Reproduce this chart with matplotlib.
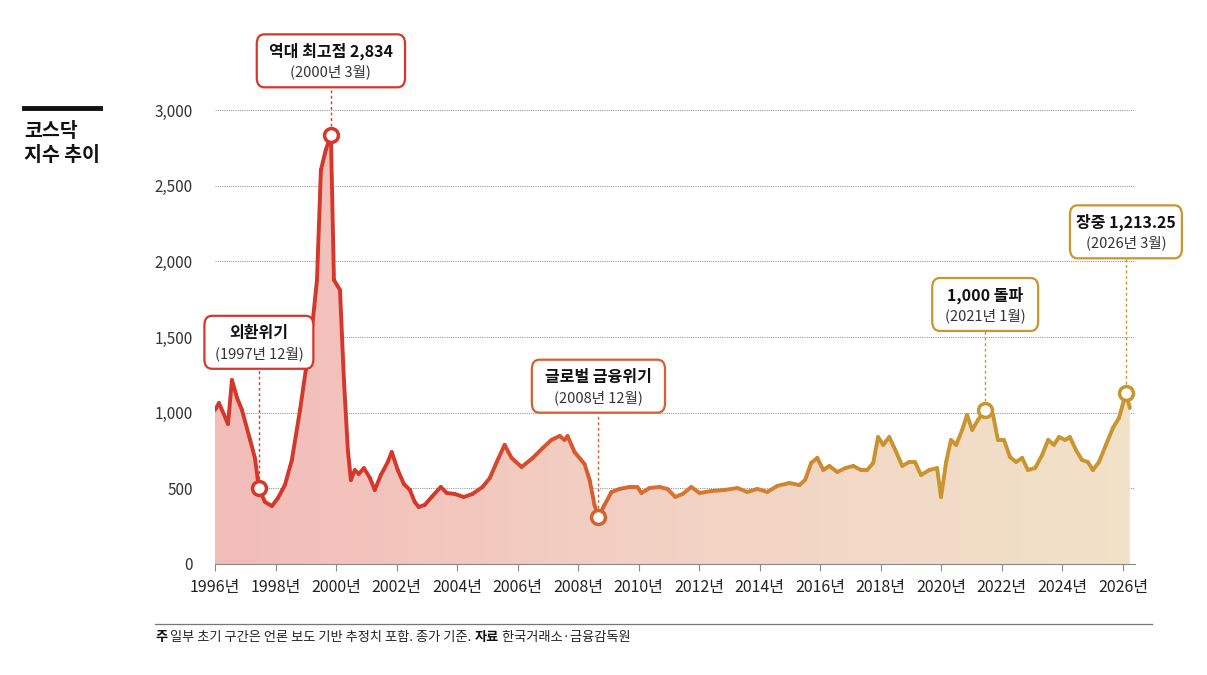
import numpy as np
import matplotlib
matplotlib.use("Agg")
import matplotlib.pyplot as plt
from matplotlib.collections import LineCollection
from matplotlib.colors import LinearSegmentedColormap
from matplotlib.patches import FancyBboxPatch

plt.rcParams["font.family"] = ["Noto Sans CJK KR", "DejaVu Sans"]

years = [1996.00, 1996.13, 1996.43, 1996.56, 1996.73, 1996.89, 1997.16, 1997.32, 1997.45, 1997.65,
         1997.88, 1998.08, 1998.31, 1998.54, 1998.81, 1999.00, 1999.20, 1999.37, 1999.50, 1999.66,
         1999.83, 1999.93, 2000.13, 2000.26, 2000.39, 2000.49, 2000.62, 2000.75, 2000.92, 2001.12,
         2001.28, 2001.48, 2001.71, 2001.84, 2002.04, 2002.24, 2002.44, 2002.60, 2002.73, 2002.93,
         2003.16, 2003.46, 2003.66, 2003.92, 2004.22, 2004.51, 2004.84, 2005.08, 2005.31, 2005.57,
         2005.80, 2006.13, 2006.50, 2006.83, 2007.12, 2007.39, 2007.55, 2007.65, 2007.88, 2008.21,
         2008.38, 2008.54, 2008.67, 2008.87, 2009.10, 2009.37, 2009.70, 2009.96, 2010.09, 2010.36,
         2010.69, 2010.95, 2011.21, 2011.45, 2011.74, 2012.01, 2012.40, 2012.83, 2013.26, 2013.59,
         2013.92, 2014.25, 2014.58, 2014.98, 2015.31, 2015.50, 2015.70, 2015.90, 2016.10, 2016.30,
         2016.56, 2016.83, 2017.09, 2017.35, 2017.55, 2017.75, 2017.91, 2018.08, 2018.28, 2018.48,
         2018.71, 2018.94, 2019.13, 2019.33, 2019.60, 2019.86, 2019.99, 2020.16, 2020.32, 2020.49,
         2020.69, 2020.85, 2021.02, 2021.21, 2021.45, 2021.71, 2021.87, 2022.07, 2022.27, 2022.47,
         2022.67, 2022.86, 2023.10, 2023.33, 2023.53, 2023.72, 2023.89, 2024.09, 2024.25, 2024.45,
         2024.65, 2024.84, 2025.01, 2025.21, 2025.44, 2025.67, 2025.87, 2026.10, 2026.23]
values = [1018, 1064, 925, 1216, 1097, 1018, 820, 700, 502, 410,
          383, 436, 522, 687, 1018, 1282, 1547, 1877, 2604, 2736,
          2834, 1877, 1811, 1216, 753, 555, 621, 595, 634, 568,
          489, 588, 674, 740, 621, 529, 489, 410, 377, 390,
          443, 509, 469, 463, 443, 463, 509, 568, 674, 787,
          701, 641, 701, 767, 820, 846, 820, 846, 740, 661,
          555, 390, 311, 390, 476, 496, 509, 509, 469, 502,
          509, 496, 443, 463, 509, 469, 482, 489, 502, 476,
          496, 476, 516, 535, 522, 555, 668, 701, 621, 648,
          608, 634, 648, 621, 621, 668, 839, 787, 839, 753,
          648, 674, 674, 588, 621, 634, 443, 674, 820, 787,
          886, 985, 886, 952, 1018, 985, 820, 820, 707, 674,
          701, 621, 634, 720, 820, 787, 839, 820, 839, 753,
          687, 674, 621, 674, 787, 899, 965, 1130, 1031]

tick_years = list(range(1996, 2027, 2))
tick_labels = [f"{y}년" for y in tick_years]
y_ticks = [0, 500, 1000, 1500, 2000, 2500, 3000]

# annotations: (marker index, title, subtitle, box top in data units, box width in years)
notes = [(8, "외환위기", "(1997년 12월)", 1640, 3.6),
         (20, "역대 최고점 2,834", "(2000년 3월)", 3500, 4.9),
         (62, "글로벌 금융위기", "(2008년 12월)", 1350, 4.4),
         (114, "1,000 돌파", "(2021년 1월)", 1890, 3.5),
         (137, "장중 1,213.25", "(2026년 3월)", 2370, 3.7)]

footer = [("주", True), (" 일부 초기 구간은 언론 보도 기반 추정치 포함. 종가 기준. ", False),
          ("자료", True), (" 한국거래소·금융감독원", False)]

RED = "#d6372b"
MID = "#d8752f"
GOLD = "#c9952f"
cmap = LinearSegmentedColormap.from_list("k", [RED, RED, MID, GOLD, GOLD], N=256)
fill_cmap = LinearSegmentedColormap.from_list("f", ["#f2bcb8", "#f3d2c4", "#f1e2c8"], N=256)

x = np.array(years)
y = np.array(values)
x0, x1 = 1996, 2026.4


def col(xv):
    return cmap((xv - x0) / (x1 - x0))


fig = plt.figure(figsize=(12.07, 6.75), dpi=100)
ax = fig.add_axes([215 / 1207, 1 - 564 / 675, (1135 - 215) / 1207, (564 - 110) / 675])
ax.set_xlim(x0, x1)
ax.set_ylim(0, 3000)

# gradient fill under curve
grad = np.linspace(0, 1, 256).reshape(1, -1)
im = ax.imshow(grad, extent=[x0, x1, 0, 3000], aspect="auto", cmap=fill_cmap, zorder=1)
poly = ax.fill_between(x, y, 0, color="none")
im.set_clip_path(poly.get_paths()[0], transform=ax.transData)

# gradient line
pts = np.column_stack([x, y]).reshape(-1, 1, 2)
segs = np.concatenate([pts[:-1], pts[1:]], axis=1)
lc = LineCollection(segs, colors=[col(v) for v in (x[:-1] + x[1:]) / 2], linewidth=2.8,
                    capstyle="round", joinstyle="round", zorder=3)
ax.add_collection(lc)

for gv in y_ticks[1:]:
    ax.axhline(gv, color="#9a9a9a", lw=0.8, ls=(0, (1, 1)), zorder=0)

for s in ["top", "right", "left"]:
    ax.spines[s].set_visible(False)
ax.spines["bottom"].set_color("#888888")
ax.set_xticks(tick_years)
ax.set_xticklabels(tick_labels, fontsize=11.5, color="#222222")
ax.tick_params(axis="x", length=5, color="#888888", pad=6)
ax.set_yticks(y_ticks)
ax.set_yticklabels([f"{v:,}" for v in y_ticks], fontsize=11, color="#333333")
ax.tick_params(axis="y", length=0, pad=16)

for idx, title, sub, top, w in notes:
    mx, my = x[idx], y[idx]
    c = col(mx)
    ax.plot(mx, my, "o", ms=10, mfc="white", mec=c, mew=2.5, zorder=5, clip_on=False)
    bottom = top - 350
    ax.plot([mx, mx], [my + 60, bottom], color=c, lw=1, ls=(0, (2, 2)), zorder=2, clip_on=False)
    ax.text(mx, top - 115, title, ha="center", va="center", fontsize=11.5, fontweight="bold",
            color="#111111", zorder=6, clip_on=False)
    ax.text(mx, top - 250, sub, ha="center", va="center", fontsize=10.5, color="#333333",
            zorder=6, clip_on=False)
    box = FancyBboxPatch((mx - w / 2, bottom), w, 350, boxstyle="round,pad=0,rounding_size=0.25",
                         mutation_aspect=250, fc="white", ec=c, lw=1.6, zorder=5, clip_on=False)
    ax.add_patch(box)

# left title
fig.add_artist(plt.Line2D([24 / 1207, 100 / 1207], [1 - 108 / 675] * 2, color="#111111", lw=3.5))
fig.text(24 / 1207, 1 - 122 / 675, "코스닥\n지수 추이", ha="left", va="top", fontsize=14,
         fontweight="bold", color="#111111", linespacing=1.35)

# footer, pieces laid out one after another
fig.add_artist(plt.Line2D([155 / 1207, 1152 / 1207], [1 - 624 / 675] * 2, color="#777777", lw=0.9))
renderer = fig.canvas.get_renderer()
fx = 155 / 1207
for txt, bold in footer:
    t = fig.text(fx, 1 - 637 / 675, txt, ha="left", va="center", fontsize=9.5,
                 fontweight="bold" if bold else "normal", color="#111111" if bold else "#222222")
    fx += t.get_window_extent(renderer).width / 1207

fig.savefig("out.png", dpi=100, facecolor="white")
